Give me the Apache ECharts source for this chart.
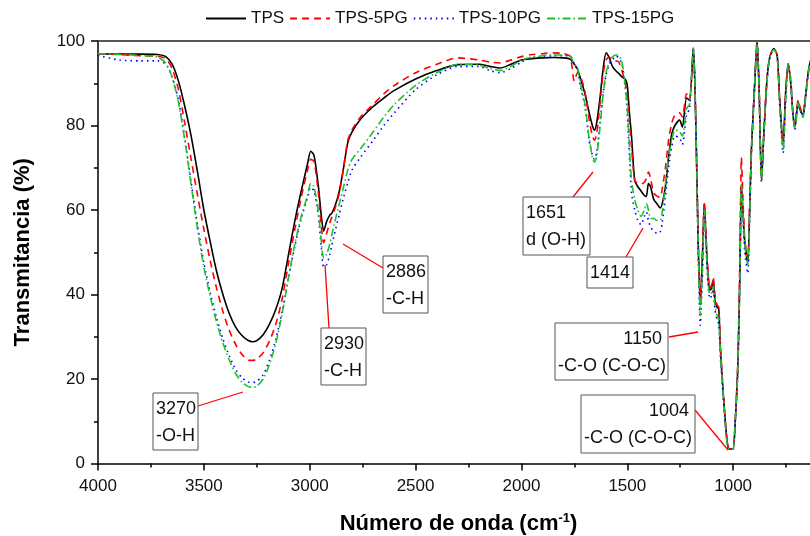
<!DOCTYPE html>
<html>
<head>
<meta charset="utf-8">
<script src="https://cdn.jsdelivr.net/npm/echarts@6/dist/echarts.min.js"></script>
<style>
html,body{margin:0;padding:0;background:#fff;}
#chart{width:810px;height:536px;}
</style>
</head>
<body>
<div id="chart"></div>
<script>
// Wavenumber (cm-1), descending
const wavenumber = [
4000,3900,3800,3720,3680,3650,3620,3590,3560,3530,
3500,3470,3440,3410,3380,3350,3320,3290,3270,3250,
3220,3190,3160,3130,3100,3070,3040,3010,2995,2980,
2960,2945,2934,2920,2905,2896,2880,2860,2840,2820,
2800,2760,2700,2650,2600,2500,2400,2300,2200,2150,
2100,2050,2000,1950,1900,1850,1800,1770,1750,1735,
1720,1700,1680,1665,1655,1645,1630,1615,1600,1585,
1570,1555,1540,1525,1510,1500,1490,1480,1465,1450,
1435,1420,1410,1400,1390,1375,1360,1345,1335,1320,
1305,1290,1275,1253,1240,1220,1206,1188,1176,1165,
1155,1146,1136,1127,1118,1110,1100,1094,1086,1076,
1068,1060,1050,1040,1030,1022,1010,1000,990,978,
968,961,954,945,931,922,914,900,887,877,
866,855,840,827,808,792,780,764,752,740,
728,718,709,700,693,682,670,658,648,638,
620,600];

const tps = [
97.0,96.9,96.9,96.8,96.3,94.5,90.5,84.5,77.5,69,
60,52.5,45.5,40,35.5,32.3,30.3,29.1,28.8,29.1,
30.5,33,36.5,41.5,49.5,57.5,64.5,71,73.9,73,
66,58.5,55,57.3,58.8,59.2,61,64.5,70,76,
78.5,81.5,84.5,86.5,88.3,91,93,94.4,94.5,94,
93.6,94.5,95.5,95.8,96,96.1,96,95.7,94.5,93.3,
91,87.5,83,80,78.9,80.5,86,93,97.2,96,
94,93,92.3,91.5,91,89.5,83,77.5,67,65.5,
64.5,63.5,63.2,66.3,65.5,62.5,61.5,60.5,61.5,65.5,
72.5,78,80,81.3,79.6,86.5,86,98.3,80,52,
37.5,48,61.5,52,44,41,41.6,43.5,38.6,37,
36.6,27,19,12,6,3.6,3.4,3.4,10,22.8,
45,66,60,52.5,47.6,60,74,88,99.8,88,
67,78,91,96.2,98.2,96.6,86,75.7,88,94.6,
90,83,79.6,83,85.6,83.5,82.5,87,91.5,94.6,
97,97];

const tps5pg = [
97.0,96.8,96.5,96.4,95.8,93.5,88.5,80.5,72,63.5,
55.5,48,41.5,36,31.5,28.2,25.8,24.5,24.4,24.7,
26.2,29,33,39,47.5,55.5,63,69.5,72,71.5,
64.5,56,52.3,54.5,57,58.2,60.5,64,70,76.5,
79,82,85,87.5,89.5,92.5,94.5,96,95.5,95,
94.8,95.5,96.3,96.8,97,97.2,97,96.3,90.5,92.5,
91.5,88,81.5,77.5,76.5,78,84.5,92,95.5,96.2,
95.5,95.3,95,93,90,87.5,81,75,67,66.3,
66.2,66.5,67.5,69,67.5,64,63.3,63,65,70,
76.5,80.5,82.5,83,82,87.5,86,98.3,80,53,
38.5,48,62,53,45,41.5,42.5,44,40,37.5,
37,28,19.5,12,6,3.6,3.4,3.4,10.5,24,
50,72.4,63,53,48.5,61,74,88,99.8,88,
67.5,78,91,96.2,98.2,96.6,86,76,87,94.6,
91,83.5,80,83.5,86,84,83,87,91.5,94.6,
97,97];

const tps10pg = [
96.6,95.5,95.3,95.3,94.5,91.5,86,77,66.5,56.5,
47.5,40.5,34.5,29.5,25.5,22.3,20.3,19.3,19.2,19.4,
21,24.5,29.5,36,44,51.5,58,63,65.4,64.5,
59,51,46.5,47,49.5,51.5,55,59,63,66.5,
69.5,72.5,76.5,80,83,88.5,92,94,94,93,
92.5,93.5,95,96,96.3,96.5,96.5,96.5,94.5,93,
89,84.5,76.5,73,72,73.5,80,87,92,94.5,
95.5,96.5,96,94.5,89,83,73,64,60,57.5,
56.5,58.5,59.5,57.5,56,55,54.5,54.7,57,63,
70,75,77.5,77,75.5,82.5,84,98.3,80,50,
32.7,43,59,50,42,39,40,41.5,36.5,34,
33,25,18,11,5.5,3.6,3.4,3.4,10,22,
44,65,58,50,45,58,73,88,99.8,88,
66.5,78,90.5,96,98,96.3,85,73.5,86,94.4,
90.5,83,79,82.5,85,83.5,82,86.5,91,94.6,
97,97];

const tps15pg = [
97.0,96.8,96.6,96.2,94.8,91.5,85.5,76.5,66,55.5,
46.5,39.5,33.5,28.5,24.5,21.3,19.2,18.2,18,18.3,
20,23.5,28.5,35.5,44,52,58.5,63.5,66.3,65.5,
60,52.5,48.6,49.5,52,54,57.5,61.5,65.5,69.5,
72,74.5,78.5,82,85,89.5,92.5,94.5,94.3,93.5,
93,94,95.5,96.2,96.5,96.7,96.7,96.5,94.5,93.5,
89.5,85,77,72.5,71.3,72.5,79,87,92.5,95,
96.2,96.7,96.5,95,89.5,84,75,67,62.5,60,
58.5,60,61.5,60,58,58,57.5,57.5,59.5,66,
72.5,76.5,79,78.5,77.5,84,85,98.3,80,52,
35,45,60,51,43,40,40.5,42,37.5,35,
34,26,18.5,11.5,5.5,3.6,3.4,3.4,10,22.5,
45,66,59.5,52,47,59,73.5,88,99.8,88,
67,78,90.5,96,98,96.3,85,74,86,94.4,
90.5,83,79.3,82.5,85.3,83.5,82,86.5,91,94.6,
97,97];

const seriesNames = ['TPS','TPS-5PG','TPS-10PG','TPS-15PG'];
const seriesValues = [tps, tps5pg, tps10pg, tps15pg];
const seriesColors = ['#000000','#ff0000','#0000ff','#1fbf2f'];
const seriesDash = ['solid',[7,5],[1.5,4],[8,3,1.5,3]];

// Annotation labels and their text lines
const annotations = [
  {lines:[['3270','left'],['-O-H','left']], box:[153,393,45,57], leader:[198,406,243,392]},
  {lines:[['2930','left'],['-C-H','left']], box:[321,328,45,57], leader:[329,328,325,265]},
  {lines:[['2886','left'],['-C-H','left']], box:[383,256,45,57], leader:[383,268,343,244]},
  {lines:[['1651','left'],['d (O-H)','left']], box:[523,197,67,58], leader:[573,197,593,172]},
  {lines:[['1414','left']], box:[587,257,46,31], leader:[626,257,643,228]},
  {lines:[['1150','right'],['-C-O (C-O-C)','left']], box:[555,323,113,57], leader:[669,337,698,332]},
  {lines:[['1004','right'],['-C-O (C-O-C)','left']], box:[581,395,114,58], leader:[695,410,728,450]}
];

const FONT = '"Liberation Sans", Arial, sans-serif';
const chart = echarts.init(document.getElementById('chart'), null, {renderer:'canvas'});

const graphics = [];
annotations.forEach(a => {
  const [bx,by,bw,bh] = a.box;
  graphics.push({type:'line', shape:{x1:a.leader[0],y1:a.leader[1],x2:a.leader[2],y2:a.leader[3]},
    style:{stroke:'#ff0000', lineWidth:1.3}, z:100});
  graphics.push({type:'rect', shape:{x:bx,y:by,width:bw,height:bh},
    style:{fill:'#ffffff', stroke:'#555555', lineWidth:1}, z:101});
  a.lines.forEach((ln, i) => {
    const ty = by + 16 + i*27;
    const tx = ln[1] === 'left' ? bx + 3 : bx + bw - 6;
    graphics.push({type:'text', x:tx, y:ty, z:102,
      style:{text:ln[0], font:'18px ' + FONT, fill:'#111', align:ln[1], verticalAlign:'middle'}});
  });
});

const option = {
  animation:false,
  backgroundColor:'#ffffff',
  textStyle:{fontFamily:FONT},
  legend:{
    data:seriesNames, left:200, top:5, itemWidth:40, itemHeight:14, itemGap:5,
    itemStyle:{opacity:0},
    textStyle:{fontSize:17, color:'#111', fontFamily:FONT}
  },
  grid:{left:98, width:741, top:41, bottom:72.5, containLabel:false, outerBoundsMode:'none'},
  xAxis:[{
    type:'value', inverse:true, min:500, max:4000, interval:500,
    name:'{a|Número de onda (cm}{s|-1}{a|)}', nameLocation:'middle', nameGap:48,
    nameTextStyle:{padding:[0,20,0,0], rich:{
      a:{fontSize:22, fontWeight:'bold', fontFamily:FONT, color:'#000'},
      s:{fontSize:13, fontWeight:'bold', fontFamily:FONT, color:'#000', padding:[0,0,12,0]}
    }},
    axisLine:{show:true, onZero:false, lineStyle:{color:'#000', width:1.5}},
    axisTick:{show:true, inside:false, length:7, lineStyle:{color:'#000', width:1.5}},
    minorTick:{show:true, splitNumber:2, length:4, lineStyle:{color:'#000', width:1.5}},
    axisLabel:{fontSize:17, color:'#111', margin:14, fontFamily:FONT, formatter: v => String(v)},
    splitLine:{show:false}
  },{
    type:'value', position:'top', inverse:true, min:500, max:4000,
    axisLine:{show:true, onZero:false, lineStyle:{color:'#555', width:2}},
    axisTick:{show:false}, axisLabel:{show:false}, splitLine:{show:false}
  }],
  yAxis:{
    type:'value', min:0, max:100, interval:20,
    name:'Transmitancia (%)', nameLocation:'middle', nameGap:64,
    nameTextStyle:{fontSize:22, fontWeight:'bold', color:'#000', fontFamily:FONT},
    axisLine:{show:true, onZero:false, lineStyle:{color:'#000', width:1.5}},
    axisTick:{show:true, inside:false, length:7, lineStyle:{color:'#000', width:1.5}},
    minorTick:{show:true, splitNumber:2, length:4, lineStyle:{color:'#000', width:1.5}},
    axisLabel:{fontSize:17, color:'#111', margin:13, fontFamily:FONT},
    splitLine:{show:false}
  },
  series: seriesNames.map((nm, k) => ({
    name:nm, type:'line', xAxisIndex:0, yAxisIndex:0,
    data: wavenumber.map((w, i) => [w, seriesValues[k][i]]),
    symbol:'none', smooth:0.25,
    lineStyle:{color:seriesColors[k], width:1.6, type:seriesDash[k]},
    itemStyle:{color:seriesColors[k]},
    clip:true
  })),
  graphic: graphics
};
chart.setOption(option);
</script>
</body>
</html>
